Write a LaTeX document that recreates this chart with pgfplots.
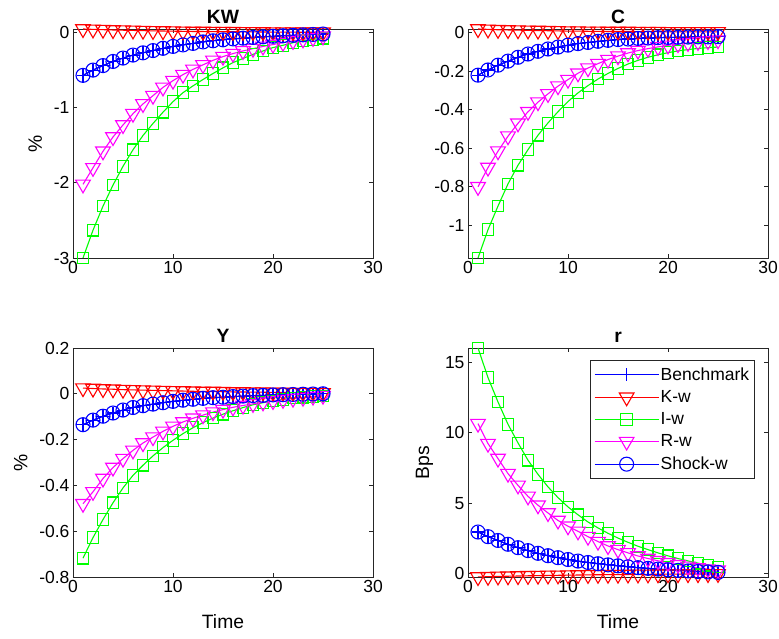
\documentclass[border=0pt]{standalone}
\usepackage{pgfplots}
\usepackage{pgfplotstable}
\pgfplotsset{compat=1.18}
\usepackage{fontspec}
\setmainfont{Liberation Sans}
\definecolor{axgray}{rgb}{0.15,0.15,0.15}
\definecolor{mblue}{rgb}{0,0,1}
\definecolor{mred}{rgb}{1,0,0}
\definecolor{mgreen}{rgb}{0,1,0}
\definecolor{mmag}{rgb}{1,0,1}
\pgfplotsset{
  matlab/.style={
    scale only axis, width=300pt, height=229pt,
    xmin=0, xmax=30, xtick={0,10,20,30},
    tick align=inside, tick pos=both,
    major tick length=4pt,
    axis line style={axgray, line width=0.7pt},
    every tick/.style={axgray, line width=0.7pt},
    tick label style={font=\fontsize{17.5}{17.5}\selectfont},
    /pgf/number format/assume math mode=true,
    /pgf/number format/fixed,
    label style={font=\fontsize{19.3}{19.3}\selectfont},
    ylabel shift=5pt,
    xlabel shift=15pt,
    title style={font=\bfseries\fontsize{19.3}{19.3}\selectfont, yshift=-4pt},
    legend cell align=left,
  },
  bench/.style={mblue, line width=1.1pt, mark=+, mark size=6.5pt},
  kw/.style={mred, line width=1.1pt, mark=triangle, mark size=8.5pt, mark options={rotate=180}},
  iw/.style={mgreen, line width=1.1pt, mark=square, mark size=5.8pt},
  rw/.style={mmag, line width=1.1pt, mark=triangle, mark size=8.5pt, mark options={rotate=180}},
  shock/.style={mblue, line width=1.1pt, mark=o, mark size=7pt},
}
\pgfplotstableread{
t  b      k      i      r
1  -0.57  0.047  -3.00  -2.02
2  -0.50  0.042  -2.63  -1.80
3  -0.44  0.038  -2.31  -1.58
4  -0.385 0.034  -2.03  -1.39
5  -0.34  0.031  -1.78  -1.23
6  -0.30  0.028  -1.56  -1.08
7  -0.27  0.025  -1.37  -0.95
8  -0.24  0.022  -1.21  -0.84
9  -0.21  0.020  -1.06  -0.73
10 -0.185 0.018  -0.92  -0.64
11 -0.165 0.016  -0.80  -0.56
12 -0.145 0.014  -0.71  -0.49
13 -0.125 0.013  -0.625 -0.43
14 -0.11  0.012  -0.545 -0.37
15 -0.097 0.011  -0.47  -0.32
16 -0.085 0.010  -0.40  -0.28
17 -0.075 0.009  -0.345 -0.245
18 -0.065 0.008  -0.29  -0.215
19 -0.057 0.007  -0.245 -0.185
20 -0.05  0.006  -0.20  -0.16
21 -0.043 0.005  -0.17  -0.135
22 -0.037 0.005  -0.135 -0.11
23 -0.031 0.004  -0.11  -0.09
24 -0.026 0.004  -0.09  -0.07
25 -0.02  0.003  -0.075 -0.05
}\KWtab
\pgfplotstableread{
t  b      k      i      r
1  -0.22  0.020  -1.17  -0.80
2  -0.193 0.018  -1.023 -0.70
3  -0.168 0.016  -0.90  -0.615
4  -0.147 0.015  -0.785 -0.537
5  -0.127 0.014  -0.688 -0.47
6  -0.11  0.013  -0.607 -0.41
7  -0.096 0.012  -0.532 -0.36
8  -0.084 0.011  -0.468 -0.317
9  -0.074 0.010  -0.41  -0.277
10 -0.064 0.009  -0.357 -0.243
11 -0.056 0.009  -0.312 -0.21
12 -0.05  0.008  -0.274 -0.183
13 -0.044 0.008  -0.24  -0.16
14 -0.039 0.007  -0.211 -0.139
15 -0.035 0.007  -0.185 -0.121
16 -0.032 0.007  -0.162 -0.105
17 -0.029 0.006  -0.143 -0.092
18 -0.027 0.006  -0.127 -0.082
19 -0.025 0.006  -0.114 -0.073
20 -0.024 0.005  -0.103 -0.065
21 -0.023 0.005  -0.094 -0.058
22 -0.022 0.005  -0.087 -0.052
23 -0.021 0.005  -0.081 -0.047
24 -0.021 0.005  -0.077 -0.042
25 -0.02  0.005  -0.074 -0.038
}\Ctab
\pgfplotstableread{
t  b      k      i      r
1  -0.135 0.025  -0.718 -0.48
2  -0.115 0.023  -0.628 -0.428
3  -0.098 0.021  -0.549 -0.37
4  -0.084 0.020  -0.476 -0.322
5  -0.071 0.018  -0.411 -0.283
6  -0.06  0.017  -0.356 -0.247
7  -0.052 0.016  -0.312 -0.215
8  -0.045 0.015  -0.271 -0.189
9  -0.039 0.014  -0.235 -0.164
10 -0.033 0.013  -0.203 -0.142
11 -0.028 0.012  -0.174 -0.123
12 -0.024 0.011  -0.148 -0.107
13 -0.02  0.010  -0.126 -0.093
14 -0.017 0.010  -0.106 -0.08
15 -0.015 0.009  -0.089 -0.069
16 -0.012 0.008  -0.074 -0.059
17 -0.01  0.008  -0.06  -0.051
18 -0.008 0.007  -0.048 -0.044
19 -0.007 0.007  -0.039 -0.037
20 -0.005 0.006  -0.031 -0.031
21 -0.004 0.006  -0.024 -0.026
22 -0.003 0.005  -0.019 -0.021
23 -0.002 0.005  -0.015 -0.017
24 -0.001 0.005  -0.012 -0.012
25 0.0    0.004  -0.009 -0.008
}\Ytab
\pgfplotstableread{
t  b     k      i      r
1  2.95  -0.24  16.0   10.64
2  2.62  -0.22  13.9   9.22
3  2.35  -0.20  12.17  8.16
4  2.08  -0.185 10.59  7.09
5  1.84  -0.17  9.27   6.26
6  1.63  -0.155 8.04   5.48
7  1.44  -0.14  7.04   4.85
8  1.27  -0.13  6.15   4.30
9  1.13  -0.12  5.39   3.77
10 1.0   -0.11  4.73   3.36
11 0.89  -0.10  4.17   3.0
12 0.79  -0.09  3.66   2.62
13 0.70  -0.08  3.24   2.27
14 0.62  -0.075 2.86   1.96
15 0.55  -0.07  2.52   1.70
16 0.48  -0.06  2.22   1.47
17 0.42  -0.055 1.94   1.25
18 0.37  -0.05  1.70   1.07
19 0.32  -0.045 1.47   0.91
20 0.27  -0.04  1.26   0.77
21 0.23  -0.035 1.07   0.63
22 0.19  -0.03  0.90   0.51
23 0.15  -0.03  0.74   0.41
24 0.12  -0.025 0.60   0.32
25 0.09  -0.02  0.46   0.24
}\Rtab
\begin{document}
\begin{tikzpicture}
\useasboundingbox (0pt,0pt) rectangle (779pt,639pt);
% KW
\begin{axis}[matlab, at={(73pt,381pt)}, anchor=south west,
  title={KW}, ylabel={\%}, ymin=-3, ymax=0.047, ytick={-3,-2,-1,0}]
\addplot[bench] table[x=t,y=b]{\KWtab};
\addplot[kw] table[x=t,y=k]{\KWtab};
\addplot[iw] table[x=t,y=i]{\KWtab};
\addplot[rw] table[x=t,y=r]{\KWtab};
\addplot[shock] table[x=t,y=b]{\KWtab};
\end{axis}
% C
\begin{axis}[matlab, at={(468pt,381pt)}, anchor=south west,
  title={C}, ymin=-1.17, ymax=0.02, ytick={-1,-0.8,-0.6,-0.4,-0.2,0}]
\addplot[bench] table[x=t,y=b]{\Ctab};
\addplot[kw] table[x=t,y=k]{\Ctab};
\addplot[iw] table[x=t,y=i]{\Ctab};
\addplot[rw] table[x=t,y=r]{\Ctab};
\addplot[shock] table[x=t,y=b]{\Ctab};
\end{axis}
% Y
\begin{axis}[matlab, at={(73pt,62pt)}, anchor=south west,
  title={Y}, ylabel={\%}, xlabel={Time}, ymin=-0.8, ymax=0.2, ytick={-0.8,-0.6,-0.4,-0.2,0,0.2}]
\addplot[bench] table[x=t,y=b]{\Ytab};
\addplot[kw] table[x=t,y=k]{\Ytab};
\addplot[iw] table[x=t,y=i]{\Ytab};
\addplot[rw] table[x=t,y=r]{\Ytab};
\addplot[shock] table[x=t,y=b]{\Ytab};
\end{axis}
% r
\begin{axis}[matlab, at={(468pt,62pt)}, anchor=south west,
  title={r}, ylabel={Bps}, xlabel={Time}, ymin=-0.24, ymax=16, ytick={0,5,10,15},
  legend style={at={(1,1)}, anchor=north east, xshift=-13pt, yshift=-12pt,
    draw=axgray, line width=0.6pt, font=\fontsize{17.5}{17.5}\selectfont,
    inner xsep=4pt, inner ysep=6pt, row sep=5.5pt,
    nodes={inner sep=1.5pt}},
  legend image code/.code={\draw[mark repeat=2,mark phase=2,#1] plot coordinates {(0pt,0pt) (32pt,0pt) (64pt,0pt)};}]
\addplot[bench] table[x=t,y=b]{\Rtab};
\addplot[kw] table[x=t,y=k]{\Rtab};
\addplot[iw] table[x=t,y=i]{\Rtab};
\addplot[rw] table[x=t,y=r]{\Rtab};
\addplot[shock] table[x=t,y=b]{\Rtab};
\legend{Benchmark,K-w,I-w,R-w,Shock-w}
\end{axis}
\end{tikzpicture}
\end{document}
